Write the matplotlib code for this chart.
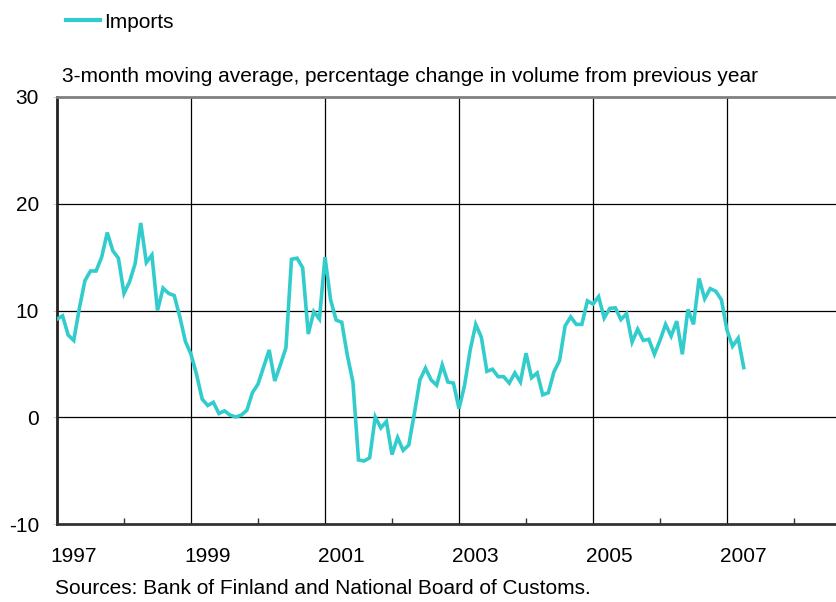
import numpy as np
import matplotlib
matplotlib.use("Agg")
import matplotlib.pyplot as plt

plt.rcParams["font.family"] = ["Liberation Sans", "DejaVu Sans"]

START_YEAR = 1997
# monthly values, Jan 1997 .. Apr 2007
imports = [
    9.2, 9.5, 7.7, 7.2, 10.2, 12.8, 13.7, 13.7, 15.0, 17.3, 15.6, 14.9,    # 1997
    11.6, 12.7, 14.4, 18.2, 14.5, 15.2, 10.0, 12.1, 11.6, 11.4, 9.4, 7.1,  # 1998
    5.9, 4.0, 1.7, 1.1, 1.4, 0.35, 0.6, 0.2, 0.03, 0.2, 0.65, 2.3,         # 1999
    3.1, 4.7, 6.3, 3.4, 4.9, 6.5, 14.8, 14.9, 14.0, 7.8, 9.9, 9.2,         # 2000
    15.0, 11.0, 9.1, 8.9, 5.8, 3.3, -4.0, -4.1, -3.8, 0.03, -1.0, -0.4,    # 2001
    -3.5, -1.9, -3.1, -2.6, 0.35, 3.5, 4.6, 3.5, 3.0, 4.9, 3.3, 3.2,       # 2002
    0.8, 3.0, 6.3, 8.7, 7.5, 4.3, 4.5, 3.8, 3.8, 3.2, 4.15, 3.3,           # 2003
    6.0, 3.7, 4.15, 2.1, 2.3, 4.25, 5.3, 8.55, 9.4, 8.7, 8.7, 10.9,        # 2004
    10.6, 11.3, 9.3, 10.2, 10.25, 9.15, 9.7, 7.05, 8.25, 7.2, 7.3, 5.9,    # 2005
    7.2, 8.7, 7.6, 9.0, 5.9, 10.1, 8.7, 13.0, 11.1, 12.05, 11.8, 11.0,     # 2006
    8.15, 6.65, 7.4, 4.65,                                                 # 2007
]
year_labels = ["1997", "1999", "2001", "2003", "2005", "2007"]
y_ticks = [-10, 0, 10, 20, 30]

TEAL = "#33CCCC"
FS = 15

x = START_YEAR + np.arange(len(imports)) / 12.0

fig = plt.figure(figsize=(8.37, 6.02), dpi=100)
ax = fig.add_axes([57 / 837, 78 / 602, 780 / 837, 427 / 602])

ax.plot(x, imports, color=TEAL, linewidth=2.6, solid_joinstyle="miter", zorder=3)

ax.set_xlim(START_YEAR, START_YEAR + 780 / 67)
ax.set_ylim(-10, 30)

# grid: horizontal every 10, vertical every 2 years
for yv in [0, 10, 20]:
    ax.axhline(yv, color="black", linewidth=0.9, zorder=1)
for yr in range(1999, 2009, 2):
    ax.axvline(yr, color="black", linewidth=0.9, zorder=1)

ax.set_yticks(y_ticks)
ax.set_yticklabels([str(v) for v in y_ticks])
ax.tick_params(axis="y", length=3, color="#cccccc", pad=10, labelsize=FS)

# year ticks (small inward marks) and labels shifted into the year
ax.set_xticks(range(1998, 2009, 2))
ax.set_xticklabels([])
ax.tick_params(axis="x", direction="in", length=4, color="#333333", width=1)
for i, lab in enumerate(year_labels):
    ax.text(1997 + 2 * i + 0.25, -13.0, lab, ha="center", va="center", fontsize=FS)

ax.spines["right"].set_visible(False)
ax.spines["top"].set_color("#808080")
ax.spines["top"].set_linewidth(2)
ax.spines["left"].set_color("#222222")
ax.spines["left"].set_linewidth(2)
ax.spines["bottom"].set_color("#333333")
ax.spines["bottom"].set_linewidth(2)

# legend at top
fig.lines.append(plt.Line2D([66 / 837, 100 / 837], [1 - 20 / 602, 1 - 20 / 602],
                            color=TEAL, linewidth=3, transform=fig.transFigure))
fig.text(104 / 837, 1 - 22 / 602, "Imports", ha="left", va="center", fontsize=FS)

fig.text(62 / 837, 1 - 76 / 602,
         "3-month moving average, percentage change in volume from previous year",
         ha="left", va="center", fontsize=FS)
fig.text(55 / 837, 1 - 589 / 602,
         "Sources: Bank of Finland and National Board of Customs.",
         ha="left", va="center", fontsize=FS)

fig.savefig("out.png", dpi=100)
